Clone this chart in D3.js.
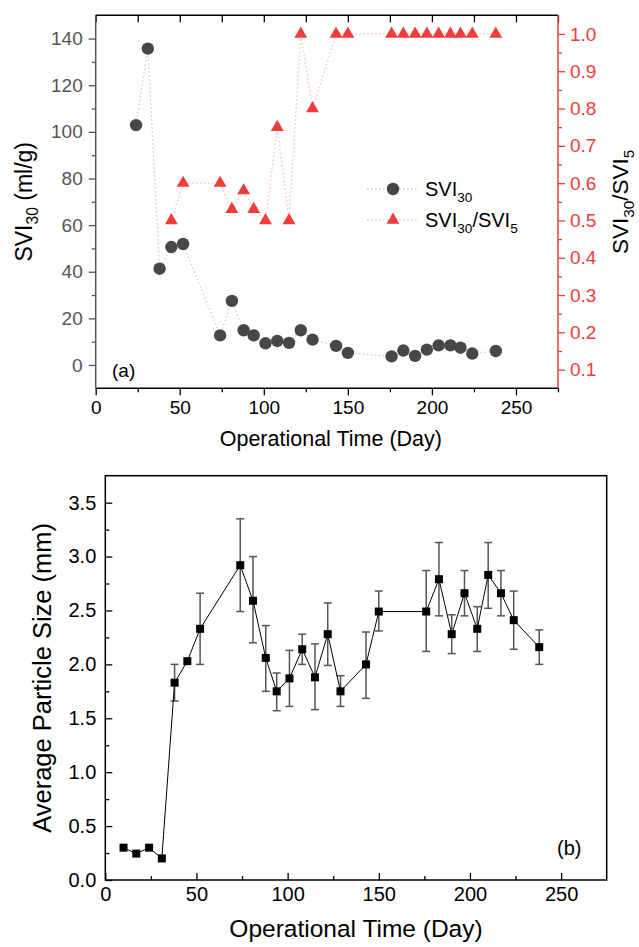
<!DOCTYPE html>
<html>
<head>
<meta charset="utf-8">
<script src="https://cdn.jsdelivr.net/npm/d3@7"></script>
<style>
  body { margin: 0; background: #fff; }
  svg text { font-family: "Liberation Sans", Arial, sans-serif; }
  .domain { display: none; }
</style>
</head>
<body>
<div class="chart"></div>
<script>
// ---- Panel (a) data ----
var sviDays = [24, 31, 38, 45, 52, 74, 81, 88, 94, 101, 108, 115, 122, 129, 143, 150, 176, 183, 190, 197, 204, 211, 217, 224, 238];
var svi30 = [102.9, 135.7, 41.3, 50.6, 51.9, 12.7, 27.5, 14.9, 12.7, 9.3, 10.3, 9.5, 14.9, 10.9, 8.2, 5.2, 3.7, 6.2, 3.9, 6.6, 8.4, 8.4, 7.4, 4.9, 6.0];
var ratioDays = [45, 52, 74, 81, 88, 94, 101, 108, 115, 122, 129, 143, 150, 176, 183, 190, 197, 204, 211, 217, 224, 238];
var ratio = [0.5, 0.6, 0.6, 0.53, 0.58, 0.53, 0.5, 0.75, 0.5, 1.0, 0.8, 1.0, 1.0, 1.0, 1.0, 1.0, 1.0, 1.0, 1.0, 1.0, 1.0, 1.0];

// ---- Panel (b) data ----
var sizeDays = [10, 17, 24, 31, 38, 45, 52, 74, 81, 88, 94, 101, 108, 115, 122, 129, 143, 150, 176, 183, 190, 197, 204, 210, 217, 224, 238];
var sizeMean = [0.30, 0.245, 0.30, 0.20, 1.83, 2.03, 2.33, 2.92, 2.59, 2.06, 1.75, 1.87, 2.14, 1.88, 2.28, 1.75, 2.0, 2.49, 2.49, 2.79, 2.28, 2.66, 2.33, 2.83, 2.66, 2.41, 2.16];
var sizeHigh = [null, null, null, null, 2.0, null, 2.66, 3.35, 3.0, 2.36, 1.92, 2.13, 2.28, 2.19, 2.57, 1.895, 2.30, 2.68, 2.87, 3.13, 2.46, 2.87, 2.535, 3.13, 2.87, 2.68, 2.32];
var sizeLow = [null, null, null, null, 1.66, null, 2.0, 2.49, 2.2, 1.75, 1.57, 1.61, 2.0, 1.58, 1.99, 1.61, 1.685, 2.31, 2.12, 2.45, 2.10, 2.45, 2.12, 2.52, 2.45, 2.14, 2.0];

// ticks
var xMajor = [0, 50, 100, 150, 200, 250];
var xMinor = [25, 75, 125, 175, 225, 275];
var yaMajor = [0, 20, 40, 60, 80, 100, 120, 140];
var yaMinor = [10, 30, 50, 70, 90, 110, 130];
var yrMajor = [0.1, 0.2, 0.3, 0.4, 0.5, 0.6, 0.7, 0.8, 0.9, 1.0];
var yrMinor = [0.15, 0.25, 0.35, 0.45, 0.55, 0.65, 0.75, 0.85, 0.95];
var ybMajor = [0, 0.5, 1.0, 1.5, 2.0, 2.5, 3.0, 3.5];
var ybMinor = [0.25, 0.75, 1.25, 1.75, 2.25, 2.75, 3.25];

var grey = "#555555";
var red = "#f03c3c";

var svg = d3.select(".chart")
  .append("svg")
  .attr("width", 639)
  .attr("height", 947);

// helper: text with subscripts, parts = [[str, isSub], ...]
function richText(sel, parts, size) {
  parts.forEach(function(p, i) {
    var prevSub = i > 0 && parts[i - 1][1];
    var t = sel.append("tspan").text(p[0]);
    if (p[1]) {
      t.attr("font-size", size * 0.68).attr("dy", size * 0.28);
    } else {
      t.attr("font-size", size);
      if (prevSub) t.attr("dy", -size * 0.28);
    }
  });
  return sel;
}

function styleAxis(g, color, fs) {
  g.selectAll("line").attr("stroke", color).attr("stroke-width", 1.3);
  g.selectAll("text").attr("fill", color).attr("font-size", fs);
}

// ================= Panel (a) =================
var a = { left: 95.7, top: 15.3, right: 558, bottom: 388.3 };

var xA = d3.scaleLinear().domain([0, 275]).range([a.left, a.right]);
var yA = d3.scaleLinear().domain([-10, 150]).range([a.bottom, a.top]);
var yR = d3.scaleLinear().domain([0.05, 1.05]).range([a.bottom, a.top]);

// bottom axis (outward ticks)
var gxa = svg.append("g").attr("transform", `translate(0, ${a.bottom})`)
  .call(d3.axisBottom(xA).tickValues(xMajor).tickSize(7).tickPadding(5));
styleAxis(gxa, "#000", 19);
var gxam = svg.append("g").attr("transform", `translate(0, ${a.bottom})`)
  .call(d3.axisBottom(xA).tickValues(xMinor).tickSize(4).tickFormat(""));
styleAxis(gxam, "#000", 19);

// top border ticks (inward)
var gxt = svg.append("g").attr("transform", `translate(0, ${a.top})`)
  .call(d3.axisTop(xA).tickValues(xMajor.concat(xMinor)).tickSize(-7).tickFormat(""));
styleAxis(gxt, "#000", 19);

// left axis
var gya = svg.append("g").attr("transform", `translate(${a.left}, 0)`)
  .call(d3.axisLeft(yA).tickValues(yaMajor).tickSize(7).tickPadding(6));
styleAxis(gya, grey, 19);
var gyam = svg.append("g").attr("transform", `translate(${a.left}, 0)`)
  .call(d3.axisLeft(yA).tickValues(yaMinor).tickSize(4).tickFormat(""));
styleAxis(gyam, grey, 19);

// right axis
var gyr = svg.append("g").attr("transform", `translate(${a.right}, 0)`)
  .call(d3.axisRight(yR).tickValues(yrMajor).tickSize(7).tickPadding(5).tickFormat(d3.format(".1f")));
styleAxis(gyr, red, 19);
var gyrm = svg.append("g").attr("transform", `translate(${a.right}, 0)`)
  .call(d3.axisRight(yR).tickValues(yrMinor).tickSize(4).tickFormat(""));
styleAxis(gyrm, red, 19);

// frame lines
svg.append("line").attr("x1", a.left).attr("x2", a.right).attr("y1", a.top).attr("y2", a.top)
  .attr("stroke", "#000").attr("stroke-width", 1.5);
svg.append("line").attr("x1", a.left).attr("x2", a.right).attr("y1", a.bottom).attr("y2", a.bottom)
  .attr("stroke", "#000").attr("stroke-width", 1.5);
svg.append("line").attr("x1", a.left).attr("x2", a.left).attr("y1", a.top).attr("y2", a.bottom)
  .attr("stroke", grey).attr("stroke-width", 1.5);
svg.append("line").attr("x1", a.right).attr("x2", a.right).attr("y1", a.top).attr("y2", a.bottom)
  .attr("stroke", red).attr("stroke-width", 1.5);

// dotted connecting lines
var sviPts = sviDays.map(function(d, i) { return [d, svi30[i]]; });
var ratioPts = ratioDays.map(function(d, i) { return [d, ratio[i]]; });

svg.append("path")
  .datum(sviPts)
  .attr("fill", "none")
  .attr("stroke", "#cccccc")
  .attr("stroke-width", 1.3)
  .attr("stroke-dasharray", "1.5,2.5")
  .attr("d", d3.line().x(d => xA(d[0])).y(d => yA(d[1])));

svg.append("path")
  .datum(ratioPts)
  .attr("fill", "none")
  .attr("stroke", "#f8c0c0")
  .attr("stroke-width", 1.3)
  .attr("stroke-dasharray", "1.5,2.5")
  .attr("d", d3.line().x(d => xA(d[0])).y(d => yR(d[1])));

// markers
svg.append("g").selectAll("circle")
  .data(sviPts)
  .enter()
  .append("circle")
  .attr("cx", d => xA(d[0]))
  .attr("cy", d => yA(d[1]))
  .attr("r", 6.2)
  .attr("fill", "#474747");

var tri = d3.symbol().type(d3.symbolTriangle).size(72);
svg.append("g").selectAll("path")
  .data(ratioPts)
  .enter()
  .append("path")
  .attr("d", tri)
  .attr("transform", d => `translate(${xA(d[0])}, ${yR(d[1])})`)
  .attr("fill", red);

// legend
var legA = svg.append("g");
[[189, "circle"], [220, "tri"]].forEach(function(row) {
  legA.append("line")
    .attr("x1", 367).attr("x2", 417).attr("y1", row[0]).attr("y2", row[0])
    .attr("stroke", row[1] === "circle" ? "#cccccc" : "#f8c0c0")
    .attr("stroke-width", 1.3)
    .attr("stroke-dasharray", "1.5,2.5");
  if (row[1] === "circle") {
    legA.append("circle").attr("cx", 393).attr("cy", row[0]).attr("r", 6.2).attr("fill", "#474747");
  } else {
    legA.append("path").attr("d", tri).attr("transform", `translate(393, ${row[0]})`).attr("fill", red);
  }
});
richText(legA.append("text").attr("x", 425).attr("y", 196).attr("fill", "#000"),
  [["SVI", false], ["30", true]], 20);
richText(legA.append("text").attr("x", 425).attr("y", 227).attr("fill", "#000"),
  [["SVI", false], ["30", true], ["/SVI", false], ["5", true]], 20);

// labels
svg.append("text").attr("x", 112).attr("y", 377).attr("font-size", 19).attr("fill", "#000").text("(a)");

svg.append("text")
  .attr("x", (a.left + a.right) / 2 + 4)
  .attr("y", 446)
  .attr("text-anchor", "middle")
  .attr("font-size", 21.5)
  .attr("fill", "#000")
  .text("Operational Time (Day)");

richText(svg.append("text")
  .attr("transform", `translate(32, ${(a.top + a.bottom) / 2}) rotate(-90)`)
  .attr("text-anchor", "middle")
  .attr("fill", "#000"),
  [["SVI", false], ["30", true], [" (ml/g)", false]], 23);

richText(svg.append("text")
  .attr("transform", `translate(628, ${(a.top + a.bottom) / 2}) rotate(-90)`)
  .attr("text-anchor", "middle")
  .attr("fill", "#000"),
  [["SVI", false], ["30", true], ["/SVI", false], ["5", true]], 22.5);

// ================= Panel (b) =================
var b = { left: 105.3, top: 475.7, right: 606.7, bottom: 880 };

var xB = d3.scaleLinear().domain([0, 275]).range([b.left, b.right]);
var yB = d3.scaleLinear().domain([0, 3.75]).range([b.bottom, b.top]);

var gxb = svg.append("g").attr("transform", `translate(0, ${b.bottom})`)
  .call(d3.axisBottom(xB).tickValues(xMajor).tickSize(-7).tickPadding(7));
styleAxis(gxb, "#000", 20);
var gxbm = svg.append("g").attr("transform", `translate(0, ${b.bottom})`)
  .call(d3.axisBottom(xB).tickValues(xMinor.slice(0, 5)).tickSize(-4).tickFormat(""));
styleAxis(gxbm, "#000", 20);

var gyb = svg.append("g").attr("transform", `translate(${b.left}, 0)`)
  .call(d3.axisLeft(yB).tickValues(ybMajor).tickSize(-7).tickPadding(9).tickFormat(d3.format(".1f")));
styleAxis(gyb, "#000", 20);
var gybm = svg.append("g").attr("transform", `translate(${b.left}, 0)`)
  .call(d3.axisLeft(yB).tickValues(ybMinor).tickSize(-4).tickFormat(""));
styleAxis(gybm, "#000", 20);

svg.append("rect")
  .attr("x", b.left).attr("y", b.top)
  .attr("width", b.right - b.left).attr("height", b.bottom - b.top)
  .attr("fill", "none").attr("stroke", "#000").attr("stroke-width", 1.5);

var sizePts = sizeDays.map(function(d, i) {
  return { day: d, v: sizeMean[i], hi: sizeHigh[i], lo: sizeLow[i] };
});

// error bars
var errG = svg.append("g").attr("stroke", grey).attr("stroke-width", 1.5);
sizePts.filter(d => d.hi !== null).forEach(function(d) {
  var x = xB(d.day);
  errG.append("line").attr("x1", x).attr("x2", x).attr("y1", yB(d.hi)).attr("y2", yB(d.lo));
  errG.append("line").attr("x1", x - 4).attr("x2", x + 4).attr("y1", yB(d.hi)).attr("y2", yB(d.hi));
  errG.append("line").attr("x1", x - 4).attr("x2", x + 4).attr("y1", yB(d.lo)).attr("y2", yB(d.lo));
});

svg.append("path")
  .datum(sizePts)
  .attr("fill", "none")
  .attr("stroke", "#000")
  .attr("stroke-width", 1)
  .attr("d", d3.line().x(d => xB(d.day)).y(d => yB(d.v)));

svg.append("g").selectAll("rect")
  .data(sizePts)
  .enter()
  .append("rect")
  .attr("x", d => xB(d.day) - 4)
  .attr("y", d => yB(d.v) - 4)
  .attr("width", 8)
  .attr("height", 8)
  .attr("fill", "#000");

svg.append("text").attr("x", 557).attr("y", 855).attr("font-size", 20).attr("fill", "#000").text("(b)");

svg.append("text")
  .attr("x", (b.left + b.right) / 2)
  .attr("y", 937)
  .attr("text-anchor", "middle")
  .attr("font-size", 24.5)
  .attr("fill", "#000")
  .text("Operational Time (Day)");

svg.append("text")
  .attr("transform", `translate(51, ${(b.top + b.bottom) / 2}) rotate(-90)`)
  .attr("text-anchor", "middle")
  .attr("font-size", 25.5)
  .attr("fill", "#000")
  .text("Average Particle Size (mm)");
</script>
</body>
</html>
